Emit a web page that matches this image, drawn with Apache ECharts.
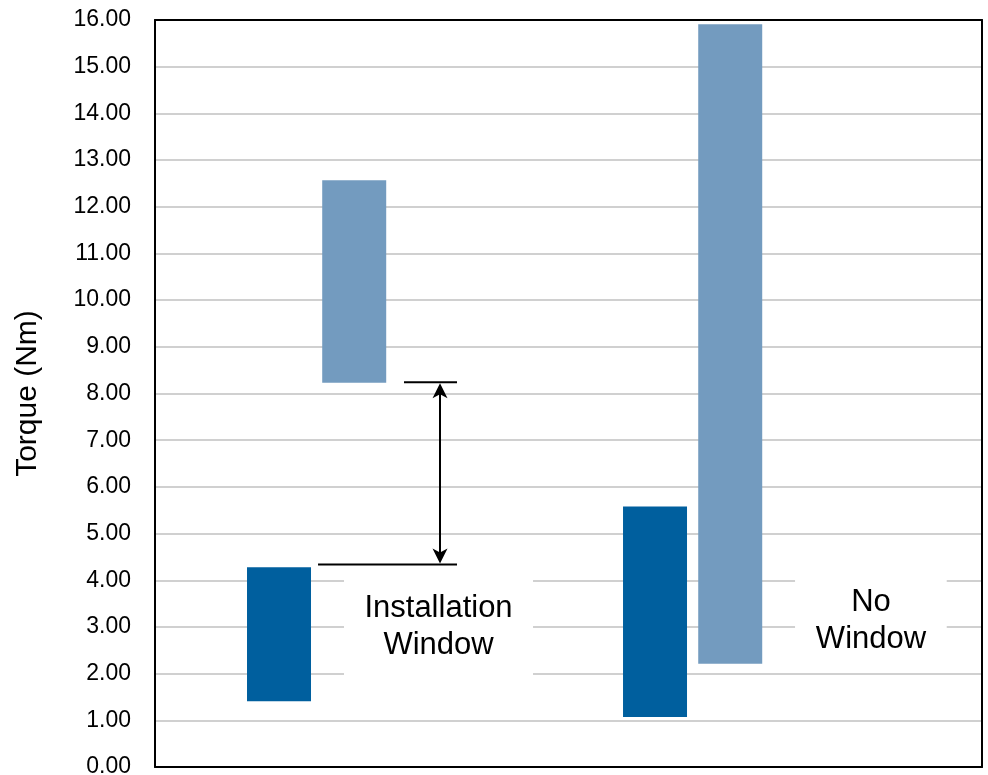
<!DOCTYPE html>
<html>
<head>
<meta charset="utf-8">
<script src="https://cdn.jsdelivr.net/npm/echarts@6/dist/echarts.min.js"></script>
<style>
html,body{margin:0;padding:0;background:#fff;overflow:hidden;}
#chart{width:988px;height:775px;}
</style>
</head>
<body>
<div id="chart"></div>
<script>
// ---- data ----
const categories = ['Installation Window', 'No Window'];
const lowerRangeMin = [1.41, 1.07];
const lowerRangeMax = [4.28, 5.58];
const upperRangeMin = [8.23, 2.21];
const upperRangeMax = [12.57, 15.91];
const windowBottom = 4.34;
const windowTop = 8.24;
const boxLabels = ['Installation\nWindow', 'No\nWindow'];
const yAxisTitle = 'Torque (Nm)';

// ---- layout (slot units on a hidden x axis) ----
const lowerSlots = [0, 5];
const upperSlots = [1, 6];
const BAR_W = 0.851;
const X_MIN = -1.649, X_MAX = 9.348;
const FONT = "'Liberation Sans', Arial, sans-serif";
const DARK = '#005f9e';
const LIGHT = '#739bbf';

const lowerData = categories.map((c, i) => [lowerSlots[i], lowerRangeMin[i], lowerRangeMax[i]]);
const upperData = categories.map((c, i) => [upperSlots[i], upperRangeMin[i], upperRangeMax[i]]);

function barRenderer(color) {
  return function (params, api) {
    const x = api.value(0), lo = api.value(1), hi = api.value(2);
    const pTop = api.coord([x, hi]);
    const pBot = api.coord([x, lo]);
    const w = api.size([BAR_W, 0])[0];
    return {
      type: 'rect',
      shape: { x: pTop[0] - w / 2, y: pTop[1], width: w, height: pBot[1] - pTop[1] },
      style: { fill: color }
    };
  };
}

// text boxes: [x0, x1, yTop, yBottom, textX, textY]
const boxLayout = [
  [0.864, 3.378, 4.07, 1.94, 2.121, 3.01],
  [6.862, 8.879, 4.07, 2.06, 7.872, 3.13]
];
const boxData = boxLabels.map((t, i) => boxLayout[i]);

function boxRenderer(params, api) {
  const i = params.dataIndex;
  const b = boxLayout[i];
  const p0 = api.coord([b[0], b[2]]);
  const p1 = api.coord([b[1], b[3]]);
  const pt = api.coord([b[4], b[5]]);
  return {
    type: 'group',
    children: [
      { type: 'rect', shape: { x: p0[0], y: p0[1], width: p1[0] - p0[0], height: p1[1] - p0[1] },
        style: { fill: '#ffffff' } },
      { type: 'text', x: pt[0], y: pt[1],
        style: { text: boxLabels[i], fill: '#000', font: '31px ' + FONT,
                 align: 'center', verticalAlign: 'middle', lineHeight: 37 } }
    ]
  };
}

// window annotation: lines + double arrow
const annLayout = { upperX: [1.662, 2.367], lowerX: [0.519, 2.367], arrowX: 2.141 };
function arrowRenderer(params, api) {
  const top = api.value(1), bot = api.value(0);
  const u0 = api.coord([annLayout.upperX[0], top]);
  const u1 = api.coord([annLayout.upperX[1], top]);
  const l0 = api.coord([annLayout.lowerX[0], bot]);
  const l1 = api.coord([annLayout.lowerX[1], bot]);
  const aT = api.coord([annLayout.arrowX, top]);
  const aB = api.coord([annLayout.arrowX, bot]);
  const hw = 7.5, hl = 16, notch = 4;
  const ax = aT[0];
  const lineStyle = { stroke: '#000', lineWidth: 2 };
  return {
    type: 'group',
    children: [
      { type: 'line', shape: { x1: u0[0], y1: u0[1], x2: u1[0], y2: u1[1] }, style: lineStyle },
      { type: 'line', shape: { x1: l0[0], y1: l0[1], x2: l1[0], y2: l1[1] }, style: lineStyle },
      { type: 'line', shape: { x1: ax, y1: aT[1] + 8, x2: ax, y2: aB[1] - 8 }, style: lineStyle },
      { type: 'polygon', shape: { points: [[ax, aT[1] + 1], [ax - hw, aT[1] + hl], [ax, aT[1] + hl - notch], [ax + hw, aT[1] + hl]] },
        style: { fill: '#000' } },
      { type: 'polygon', shape: { points: [[ax, aB[1] - 1], [ax - hw, aB[1] - hl], [ax, aB[1] - hl + notch], [ax + hw, aB[1] - hl]] },
        style: { fill: '#000' } }
    ]
  };
}

const frameAxisLine = { show: true, onZero: false, lineStyle: { color: '#000', width: 2 } };

const chart = echarts.init(document.getElementById('chart'), null, { renderer: 'canvas' });
chart.setOption({
  animation: false,
  backgroundColor: '#fff',
  grid: { left: 155, right: 6, top: 20, bottom: 8, containLabel: false, outerBoundsMode: 'none' },
  xAxis: [
    { type: 'value', min: X_MIN, max: X_MAX, position: 'bottom',
      axisLine: frameAxisLine, axisTick: { show: false }, axisLabel: { show: false }, splitLine: { show: false } },
    { type: 'value', min: X_MIN, max: X_MAX, position: 'top',
      axisLine: frameAxisLine, axisTick: { show: false }, axisLabel: { show: false }, splitLine: { show: false } }
  ],
  yAxis: [
    { type: 'value', min: 0, max: 16, interval: 1, position: 'left',
      name: yAxisTitle, nameLocation: 'middle', nameRotate: 90, nameGap: 112,
      nameTextStyle: { fontFamily: FONT, fontSize: 30, color: '#000' },
      axisLine: frameAxisLine,
      axisTick: { show: false },
      axisLabel: { fontFamily: FONT, fontSize: 23, color: '#000', margin: 24,
                   formatter: v => v.toFixed(2) },
      splitLine: { show: true, lineStyle: { color: '#c0c0c0', width: 1.5 } } },
    { type: 'value', min: 0, max: 16, interval: 1, position: 'right',
      axisLine: frameAxisLine, axisTick: { show: false }, axisLabel: { show: false }, splitLine: { show: false } }
  ],
  series: [
    { type: 'custom', name: 'Lower', renderItem: barRenderer(DARK), data: lowerData, z: 2 },
    { type: 'custom', name: 'Upper', renderItem: barRenderer(LIGHT), data: upperData, z: 2 },
    { type: 'custom', name: 'Boxes', renderItem: boxRenderer, data: boxData, z: 3 },
    { type: 'custom', name: 'Window', renderItem: arrowRenderer, data: [[windowBottom, windowTop]], z: 4 }
  ]
});
</script>
</body>
</html>
